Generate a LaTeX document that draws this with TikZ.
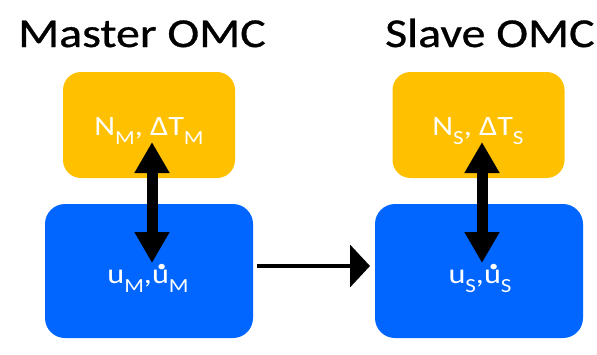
\documentclass[tikz,border=0pt]{standalone}
\usepackage{fontspec}
\setmainfont{Carlito}
\newfontfamily\titlefont[FakeStretch=1.17,FakeBold=0.8]{Carlito}
\newfontfamily\boxfont[FakeStretch=1.15]{Carlito}
\usetikzlibrary{arrows.meta}
\definecolor{omcorange}{RGB}{255,192,0}
\definecolor{omcblue}{RGB}{0,102,255}
\newcommand{\lsub}[1]{\raisebox{-9pt}{\fontsize{20}{20}\selectfont #1}}
\newcommand{\udot}{\rlap{\hspace{3pt}\raisebox{14pt}{\fontsize{46}{46}\selectfont .}}u}
\begin{document}
\begin{tikzpicture}[x=1pt,y=-1pt,
  title/.style={anchor=base west, inner sep=0pt, font=\titlefont\fontsize{41}{41}\selectfont},
  obox/.style={fill=omcorange, rounded corners=18pt, draw=none, minimum width=172pt, minimum height=106pt, inner sep=0pt},
  bbox/.style={fill=omcblue, rounded corners=20pt, draw=none, minimum width=208pt, minimum height=134pt, inner sep=0pt},
  lbl/.style={text=white, inner sep=0pt, anchor=base, font=\boxfont\fontsize{28}{28}\selectfont},
  dbl/.style={line width=11pt, {Triangle[width=33pt,length=31pt]}-{Triangle[width=33pt,length=31pt]}},
  link/.style={line width=4pt, -{Triangle[width=42pt,length=20pt]}}]
\useasboundingbox (0,0) rectangle (597,354);
% titles
\node[title] (mt) at (18,47) {Master OMC};
\node[title] (st) at (385,47) {Slave OMC};
% boxes
\node[obox] (mo) at (149,125) {};
\node[bbox] (mb) at (149,271) {};
\node[obox] (so) at (478.5,125) {};
\node[bbox] (sb) at (479,271) {};
% labels
\node[lbl] (mol) at (149,135) {N\lsub{M}, ΔT\lsub{M}};
\node[lbl] (mbl) at (148,283) {u\lsub{M},\udot\lsub{M}};
\node[lbl] (sol) at (478,135) {N\lsub{S}, ΔT\lsub{S}};
\node[lbl] (sbl) at (480,283) {u\lsub{S},\udot\lsub{S}};
% arrow ends
\coordinate (mtop) at (152,142);
\coordinate (mbot) at (152,263);
\coordinate (stop) at (482,142);
\coordinate (sbot) at (482,263);
\coordinate (lstart) at (257,266);
\coordinate (lend) at (370,266);
\draw[dbl] (mtop) -- (mbot);
\draw[dbl] (stop) -- (sbot);
\draw[link] (lstart) -- (lend);
\end{tikzpicture}
\end{document}
